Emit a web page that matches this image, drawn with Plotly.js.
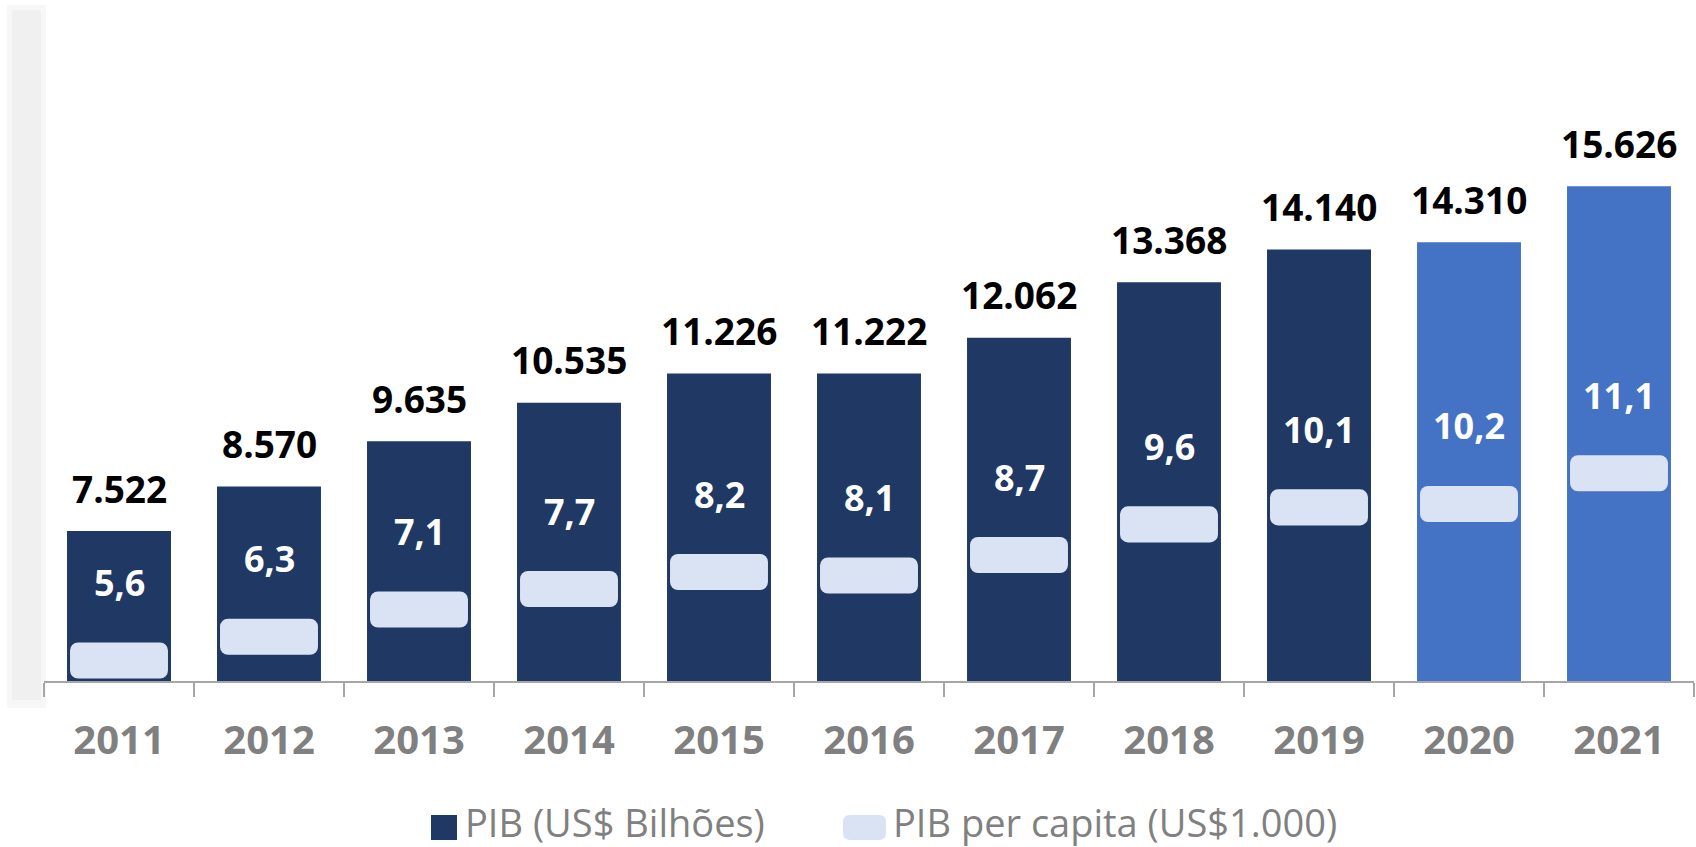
<!DOCTYPE html>
<html>
<head>
<meta charset="utf-8">
<script src="https://cdn.plot.ly/plotly-3.0.1.min.js"></script>
<style>
  html, body { margin: 0; padding: 0; background: #ffffff; }
  #chart { width: 1696px; height: 847px; }
</style>
</head>
<body>
<div id="chart"></div>
<script>
// ---- data ----
var years = ['2011', '2012', '2013', '2014', '2015', '2016', '2017', '2018', '2019', '2020', '2021'];
var pib = [7522, 8570, 9635, 10535, 11226, 11222, 12062, 13368, 14140, 14310, 15626];
var pibPerCapita = [5.6, 6.3, 7.1, 7.7, 8.2, 8.1, 8.7, 9.6, 10.1, 10.2, 11.1];
var seriesNames = ['PIB (US$ Bilhões)', 'PIB per capita (US$1.000)'];

// ---- styles ----
var DARK = '#203864';
var LIGHT = '#4472C4';
var MARK = '#DAE3F3';
var GRAY = '#808080';
var FONT = 'Open Sans, Noto Sans, sans-serif';

var W = 1696, H = 847;
var M = { l: 44, r: 2, t: 0, b: 166 };
var PW = W - M.l - M.r, PH = H - M.t - M.b;
function px2paperX(px) { return (px - M.l) / PW; }
function px2paperY(py) { return (M.t + PH - py) / PH; }

var barColors = years.map(function (y) { return (+y >= 2020) ? LIGHT : DARK; });

// per-capita marker drawn as a rounded pill: two half bars with rounded far ends
var HALF = 0.53;   // half height of the pill in y2 units
var OVL = 0.2;     // overlap so the two halves join seamlessly
var upperBase = pibPerCapita.map(function (v) { return v - OVL; });
var lowerBase = pibPerCapita.map(function (v) { return v + OVL; });
var upperLen = pibPerCapita.map(function () { return HALF + OVL; });
var lowerLen = pibPerCapita.map(function () { return -(HALF + OVL); });

function fmtThousands(n) { return String(n).replace(/\B(?=(\d{3})+(?!\d))/g, '.'); }
function fmtDec(v) { return v.toFixed(1).replace('.', ','); }

var traces = [
  {
    type: 'bar', name: seriesNames[0], x: years, y: pib,
    width: 0.693, marker: { color: barColors, line: { width: 0 } },
    yaxis: 'y', hoverinfo: 'skip'
  },
  {
    type: 'bar', name: seriesNames[1], x: years, y: upperLen, base: upperBase,
    width: 0.653, marker: { color: MARK, cornerradius: 8, line: { width: 0 } },
    yaxis: 'y2', hoverinfo: 'skip'
  },
  {
    type: 'bar', name: seriesNames[1], x: years, y: lowerLen, base: lowerBase,
    width: 0.653, marker: { color: MARK, cornerradius: 8, line: { width: 0 } },
    yaxis: 'y2', showlegend: false, hoverinfo: 'skip'
  }
];

var annotations = [];
years.forEach(function (yr, i) {
  annotations.push({
    x: i, y: pib[i], xref: 'x', yref: 'y', yshift: 43,
    text: fmtThousands(pib[i]), showarrow: false,
    font: { family: FONT, size: 37, color: '#000000', weight: 'bold' }
  });
  annotations.push({
    x: i, y: pibPerCapita[i], xref: 'x', yref: 'y2', yshift: 78,
    text: fmtDec(pibPerCapita[i]), showarrow: false,
    font: { family: FONT, size: 36, color: '#ffffff', weight: 'bold' }
  });
});

// ---- legend (drawn as shapes + text so symbol sizes match) ----
var LEG_Y = 822;
annotations.push({
  xref: 'paper', yref: 'paper', x: px2paperX(463), y: px2paperY(LEG_Y),
  xanchor: 'left', yanchor: 'middle', showarrow: false, text: seriesNames[0],
  font: { family: FONT, size: 38, color: GRAY }
});
annotations.push({
  xref: 'paper', yref: 'paper', x: px2paperX(891), y: px2paperY(LEG_Y),
  xanchor: 'left', yanchor: 'middle', showarrow: false, text: seriesNames[1],
  font: { family: FONT, size: 38, color: GRAY }
});

function roundedRectPath(x0, y0, x1, y1, r) {
  // pixel coordinates -> paper path
  var X = px2paperX, Y = px2paperY;
  return 'M' + X(x0 + r) + ',' + Y(y0) +
    ' L' + X(x1 - r) + ',' + Y(y0) +
    ' Q' + X(x1) + ',' + Y(y0) + ' ' + X(x1) + ',' + Y(y0 + r) +
    ' L' + X(x1) + ',' + Y(y1 - r) +
    ' Q' + X(x1) + ',' + Y(y1) + ' ' + X(x1 - r) + ',' + Y(y1) +
    ' L' + X(x0 + r) + ',' + Y(y1) +
    ' Q' + X(x0) + ',' + Y(y1) + ' ' + X(x0) + ',' + Y(y1 - r) +
    ' L' + X(x0) + ',' + Y(y0 + r) +
    ' Q' + X(x0) + ',' + Y(y0) + ' ' + X(x0 + r) + ',' + Y(y0) + ' Z';
}

var layout = {
  width: W, height: H,
  margin: { l: M.l, r: M.r, t: M.t, b: M.b, pad: 0 },
  paper_bgcolor: '#ffffff', plot_bgcolor: '#ffffff',
  barmode: 'overlay',
  showlegend: false,
  xaxis: {
    type: 'category', range: [-0.5, years.length - 0.5],
    showgrid: false, zeroline: false,
    showline: true, linecolor: '#a6a6a6', linewidth: 2,
    ticks: 'outside', tickson: 'boundaries', ticklen: 14, tickcolor: '#a6a6a6', tickwidth: 2,
    tickfont: { family: FONT, size: 40, color: GRAY, weight: 'bold' },
    tickangle: 0, ticklabelstandoff: 23, fixedrange: true
  },
  yaxis: {
    range: [4000, 20000], visible: false, showgrid: false, zeroline: false, fixedrange: true
  },
  yaxis2: {
    range: [5, 25], overlaying: 'y', side: 'right', visible: false,
    showgrid: false, zeroline: false, fixedrange: true
  },
  annotations: annotations,
  shapes: [
    { type: 'rect', xref: 'paper', yref: 'paper', layer: 'below',
      x0: px2paperX(7), x1: px2paperX(46), y0: px2paperY(708), y1: px2paperY(5),
      fillcolor: '#f7f7f7', line: { width: 0 } },
    { type: 'rect', xref: 'paper', yref: 'paper', layer: 'below',
      x0: px2paperX(12), x1: px2paperX(41), y0: px2paperY(700), y1: px2paperY(10),
      fillcolor: '#f0f0f0', line: { width: 0 } },
    { type: 'rect', xref: 'paper', yref: 'paper',
      x0: px2paperX(431), x1: px2paperX(457), y0: px2paperY(840), y1: px2paperY(815),
      fillcolor: DARK, line: { width: 0 } },
    { type: 'path', xref: 'paper', yref: 'paper',
      path: roundedRectPath(843, 815, 886, 840, 7),
      fillcolor: MARK, line: { width: 0 } }
  ]
};

Plotly.newPlot('chart', traces, layout, { displayModeBar: false, staticPlot: true });
</script>
</body>
</html>
